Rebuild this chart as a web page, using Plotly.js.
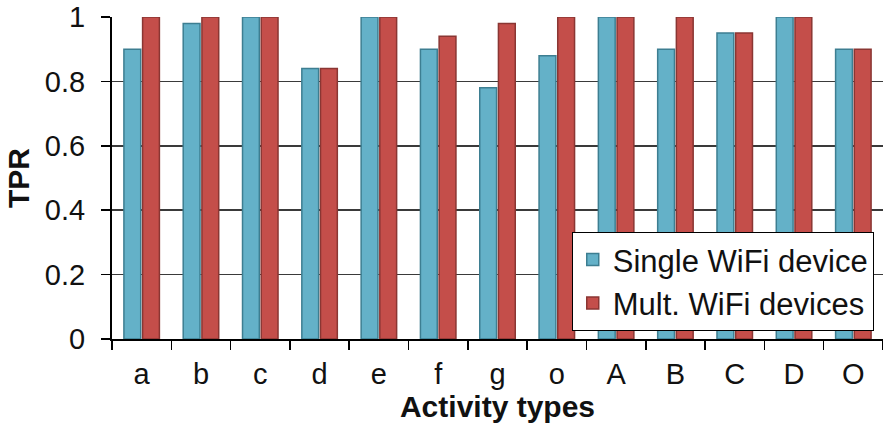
<!DOCTYPE html>
<html>
<head>
<meta charset="utf-8">
<script src="https://cdn.plot.ly/plotly-3.0.1.min.js"></script>
<style>
  html, body { margin: 0; padding: 0; background: #fff; }
  #chart { width: 883px; height: 429px; }
</style>
</head>
<body>
<div id="chart"></div>
<script>
// Activity categories on the x axis
const activities = ['a', 'b', 'c', 'd', 'e', 'f', 'g', 'o', 'A', 'B', 'C', 'D', 'O'];

// True positive rate per activity
const singleDevice = [0.90, 0.98, 1.00, 0.84, 1.00, 0.90, 0.78, 0.88, 1.00, 0.90, 0.95, 1.00, 0.90];
const multiDevices = [1.00, 1.00, 1.00, 0.84, 1.00, 0.94, 0.98, 1.00, 1.00, 1.00, 0.95, 1.00, 0.90];

const seriesNames = ['Single WiFi device', 'Mult. WiFi devices'];
const yTicks = [0, 0.2, 0.4, 0.6, 0.8, 1];
const yTickText = ['0', '0.2', '0.4', '0.6', '0.8', '1'];

const FONT = 'Liberation Sans, Arial, Helvetica, sans-serif';

const traces = [
  {
    type: 'bar',
    name: seriesNames[0],
    x: activities,
    y: singleDevice,
    legendgroup: 'g1',
    marker: { color: '#64b1c8', line: { color: '#3d7e91', width: 1.5 } }
  },
  {
    type: 'bar',
    name: seriesNames[1],
    x: activities,
    y: multiDevices,
    legendgroup: 'g2',
    marker: { color: '#c44e4a', line: { color: '#8a3633', width: 1.5 } }
  }
];

const layout = {
  width: 883,
  height: 429,
  margin: { l: 112, r: 0, t: 17, b: 90, pad: 0 },
  paper_bgcolor: '#ffffff',
  plot_bgcolor: '#ffffff',
  barmode: 'group',
  bargap: 0.37,
  bargroupgap: 0.1,
  font: { family: FONT, size: 29, color: '#111' },
  showlegend: true,
  legend: {
    x: 0.988, xanchor: 'right',
    y: 0.025, yanchor: 'bottom',
    bgcolor: '#ffffff',
    bordercolor: '#000000',
    borderwidth: 1,
    font: { family: FONT, size: 31, color: '#111' },
    traceorder: 'grouped',
    tracegroupgap: 0,
    itemwidth: 30
  },
  xaxis: {
    type: 'category',
    range: [-0.5, 12.5],
    tickson: 'boundaries',
    ticks: 'outside',
    ticklen: 9,
    tickwidth: 1.5,
    tickcolor: '#000',
    showline: true,
    linecolor: '#000',
    linewidth: 2,
    showgrid: false,
    ticklabelstandoff: 8,
    tickfont: { family: FONT, size: 29, color: '#111' },
    title: { text: '<b>Activity types</b>', font: { family: FONT, size: 30, color: '#111' }, standoff: 6 },
    fixedrange: true
  },
  yaxis: {
    range: [0, 1],
    tickvals: yTicks,
    ticktext: yTickText,
    ticks: 'outside',
    ticklen: 9,
    tickwidth: 1.5,
    tickcolor: '#000',
    showline: true,
    linecolor: '#000',
    linewidth: 2,
    showgrid: true,
    gridcolor: '#3a3a3a',
    gridwidth: 1.5,
    zeroline: false,
    ticklabelstandoff: 10,
    tickfont: { family: FONT, size: 29, color: '#111' },
    title: { text: '<b>TPR</b>', font: { family: FONT, size: 30, color: '#111' }, standoff: 6 },
    fixedrange: true
  }
};

Plotly.newPlot('chart', traces, layout, { displayModeBar: false, staticPlot: true });
</script>
</body>
</html>
